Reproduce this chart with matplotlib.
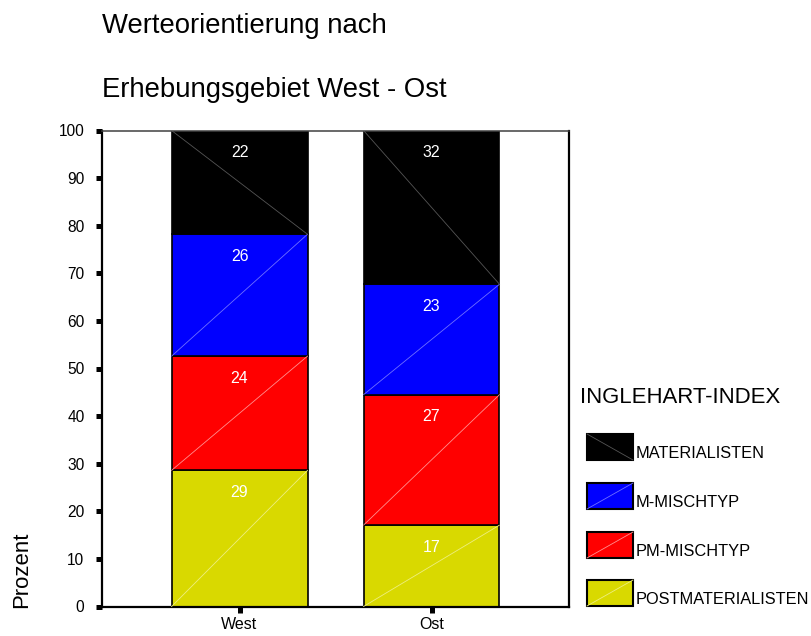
import matplotlib
matplotlib.use('Agg')
import matplotlib.pyplot as plt
from matplotlib.patches import Rectangle
from matplotlib.lines import Line2D

plt.rcParams['font.family'] = ['Liberation Sans', 'DejaVu Sans']

# data
regions = ['West', 'Ost']
categories = ['POSTMATERIALISTEN', 'PM-MISCHTYP', 'M-MISCHTYP', 'MATERIALISTEN']
west = [28.6, 24.0, 25.6, 21.8]
ost = [17.1, 27.4, 23.2, 32.3]
colors = ['#d9d900', '#ff0000', '#0000ff', '#000000']
diag_colors = ['#eeee80', '#ff9090', '#7070ff', '#555555']

W, H = 811, 636
fig = plt.figure(figsize=(W / 100, H / 100), dpi=100)
ax = fig.add_axes([101.5 / W, 1 - 606.5 / H, (569 - 101.5) / W, (606.5 - 130.5) / H])

x = [0, 1]
bottom = [0, 0]
for i, cat in enumerate(categories):
    vals = [west[i], ost[i]]
    bars = ax.bar(x, vals, width=0.708, bottom=bottom, color=colors[i],
                  edgecolor='black', linewidth=1.2, zorder=2)
    for rect, v in zip(bars, vals):
        x0, y0 = rect.get_x(), rect.get_y()
        w, h = rect.get_width(), rect.get_height()
        if i == 3:
            ax.plot([x0, x0 + w], [y0 + h, y0], color=diag_colors[i], lw=0.6, zorder=3)
        else:
            ax.plot([x0, x0 + w], [y0, y0 + h], color=diag_colors[i], lw=0.6, zorder=3)
        ax.text(x0 + w / 2, y0 + h - 4.6, f'{v:.0f}', ha='center', va='center',
                color='white', fontsize=11.4, zorder=4)
    bottom = [b + v for b, v in zip(bottom, vals)]

ax.set_xlim(-0.719, 1.716)
ax.set_ylim(0, 100)
ax.set_yticks(range(0, 101, 10))
ax.set_xticks(x)
ax.set_xticklabels(regions)
ax.tick_params(axis='both', direction='out', length=4.3, width=3.6, color='black')
ax.tick_params(axis='y', labelsize=11.2, pad=8)
ax.tick_params(axis='x', labelsize=11.5, pad=3)
for s in ['left', 'bottom', 'right']:
    ax.spines[s].set_linewidth(1.6)
    ax.spines[s].set_color('black')
ax.spines['top'].set_linewidth(1.1)
ax.spines['top'].set_color('#404040')

# titles
fig.text(102 / W, 1 - 33 / H, 'Werteorientierung nach', fontsize=19.8, va='baseline')
fig.text(102 / W, 1 - 97 / H, 'Erhebungsgebiet West - Ost', fontsize=19.8, va='baseline')
fig.text(27 / W, 1 - 570 / H, 'Prozent', fontsize=15.9, rotation=90,
         rotation_mode='anchor', ha='center', va='baseline')

# legend
fig.text(580 / W, 1 - 403 / H, 'INGLEHART-INDEX', fontsize=15.9, va='baseline')
tops = [434, 483, 532, 580]
for k, i in enumerate([3, 2, 1, 0]):
    t = tops[k]
    fig.add_artist(Rectangle((587 / W, 1 - (t + 26) / H), 46 / W, 26 / H,
                             transform=fig.transFigure, facecolor=colors[i],
                             edgecolor='black', linewidth=1.5))
    if i == 3:
        xs, ys = [587, 633], [t, t + 26]
    else:
        xs, ys = [587, 633], [t + 26, t]
    fig.add_artist(Line2D([v / W for v in xs], [1 - v / H for v in ys],
                          transform=fig.transFigure, color=diag_colors[i], lw=0.6))
    fig.text(636 / W, 1 - (t + 24) / H, categories[i], fontsize=11.8, va='baseline')

fig.savefig('out.png', dpi=100)
